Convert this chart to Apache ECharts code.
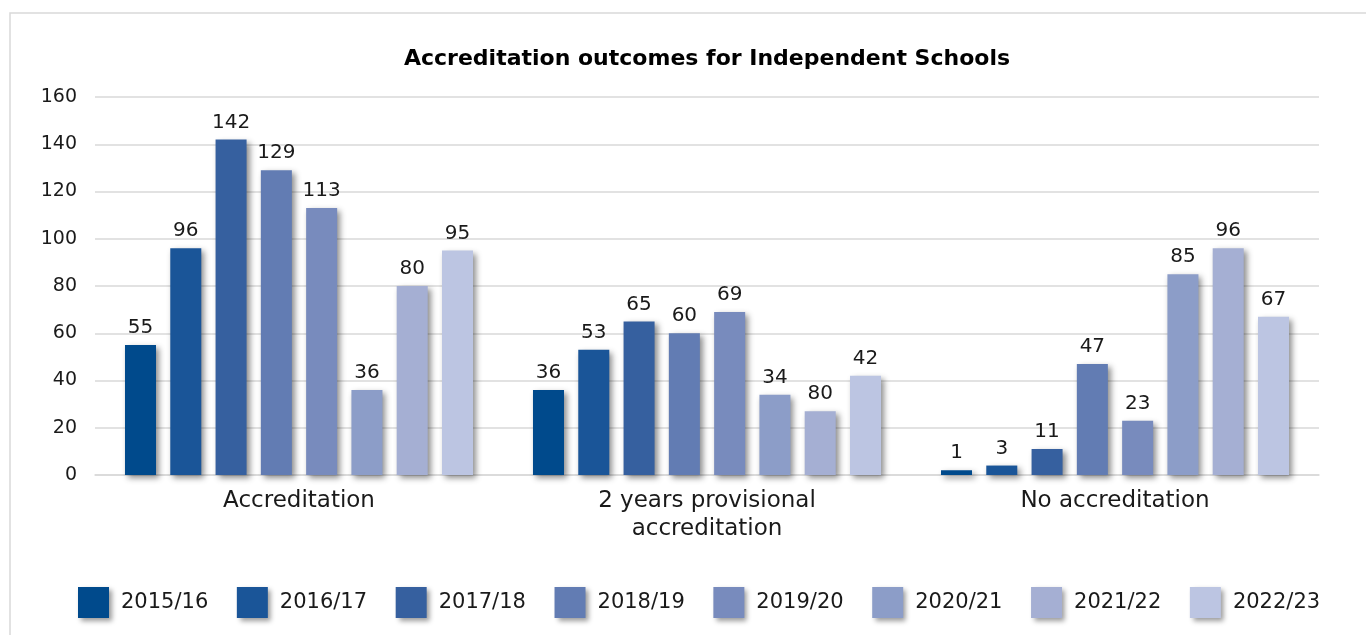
<!DOCTYPE html>
<html>
<head>
<meta charset="utf-8">
<script src="https://cdn.jsdelivr.net/npm/echarts@6/dist/echarts.min.js"></script>
<style>
  html, body { margin: 0; padding: 0; background: #fff; }
  #chart { width: 1366px; height: 635px; }
</style>
</head>
<body>
<div id="chart"></div>
<script>
	var categories = ['Accreditation', '2 years provisional\naccreditation', 'No accreditation'];
	var years = ['2015/16', '2016/17', '2017/18', '2018/19', '2019/20', '2020/21', '2021/22', '2022/23'];
	var colors = ['#004a8c', '#1a5598', '#36609f', '#627cb3', '#788bbd', '#8c9dc8', '#a5afd3', '#bcc5e2'];
	// bar heights per year, one value per category
	var v1516 = [55, 36, 2];
	var v1617 = [96, 53, 4];
	var v1718 = [142, 65, 11];
	var v1819 = [129, 60, 47];
	var v1920 = [113, 69, 23];
	var v2021 = [36, 34, 85];
	var v2122 = [80, 27, 96];
	var v2223 = [95, 42, 67];
	// printed labels (the picture prints 80 over the short 2021/22 bar, 1 and 3 over the tiny ones)
	var l1516 = [55, 36, 1];
	var l1617 = [96, 53, 3];
	var l1718 = [142, 65, 11];
	var l1819 = [129, 60, 47];
	var l1920 = [113, 69, 23];
	var l2021 = [36, 34, 85];
	var l2122 = [80, 80, 96];
	var l2223 = [95, 42, 67];
	var yTicks = [0, 160, 20]; // min, max, interval

	var values = [v1516, v1617, v1718, v1819, v1920, v2021, v2122, v2223];
	var labels = [l1516, l1617, l1718, l1819, l1920, l2021, l2122, l2223];
	var font = '"DejaVu Sans", sans-serif';

	var series = [];
	for (var i = 0; i < years.length; i++) {
		(function (i) {
			series.push({
				name: years[i],
				type: 'bar',
				data: values[i],
				barGap: '46%',
				barCategoryGap: '14.7%',
				itemStyle: {
					color: colors[i],
					shadowColor: 'rgba(0,0,0,0.45)',
					shadowBlur: 6,
					shadowOffsetX: 3,
					shadowOffsetY: 3
				},
				label: {
					show: true,
					position: 'top',
					distance: 7,
					color: '#1a1a1a',
					fontFamily: font,
					fontSize: 20,
					formatter: function (p) { return labels[i][p.dataIndex]; }
				}
			});
		})(i);
	}

	var myChart = echarts.init(document.getElementById('chart'));
	var option = {
		animation: false,
		backgroundColor: '#fff',
		title: {
			text: 'Accreditation outcomes for Independent Schools',
			left: 702,
			textAlign: 'center',
			top: 43,
			textStyle: { fontFamily: font, fontSize: 22, fontWeight: 'bold', color: '#000' }
		},
		graphic: [{
			type: 'rect',
			shape: { x: 10, y: 13, width: 1400, height: 700 },
			style: { fill: 'none', stroke: '#d9d9d9', lineWidth: 1.5 },
			silent: true
		}],
		grid: { left: 95, right: 47, top: 97, bottom: 160, containLabel: false },
		legend: {
			top: 582,
			left: 73,
			itemWidth: 31,
			itemHeight: 31,
			itemGap: 28.6,
			icon: 'rect',
			itemStyle: {
				shadowColor: 'rgba(0,0,0,0.4)',
				shadowBlur: 5,
				shadowOffsetX: 3,
				shadowOffsetY: 3
			},
			textStyle: { fontFamily: font, fontSize: 21, color: '#1a1a1a', padding: [0, 0, 0, 7] },
			data: years
		},
		xAxis: {
			type: 'category',
			data: categories,
			axisLine: { show: true, lineStyle: { color: '#d9d9d9', width: 1.5 } },
			axisTick: { show: false },
			axisLabel: { fontFamily: font, fontSize: 23, color: '#1a1a1a', margin: 12, lineHeight: 28 }
		},
		yAxis: {
			type: 'value',
			min: yTicks[0],
			max: yTicks[1],
			interval: yTicks[2],
			axisLine: { show: false },
			axisTick: { show: false },
			splitLine: { lineStyle: { color: '#d9d9d9', width: 1.5 } },
			axisLabel: { fontFamily: font, fontSize: 19, color: '#1a1a1a', margin: 18 }
		},
		series: series
	};
	myChart.setOption(option);
</script>
</body>
</html>
